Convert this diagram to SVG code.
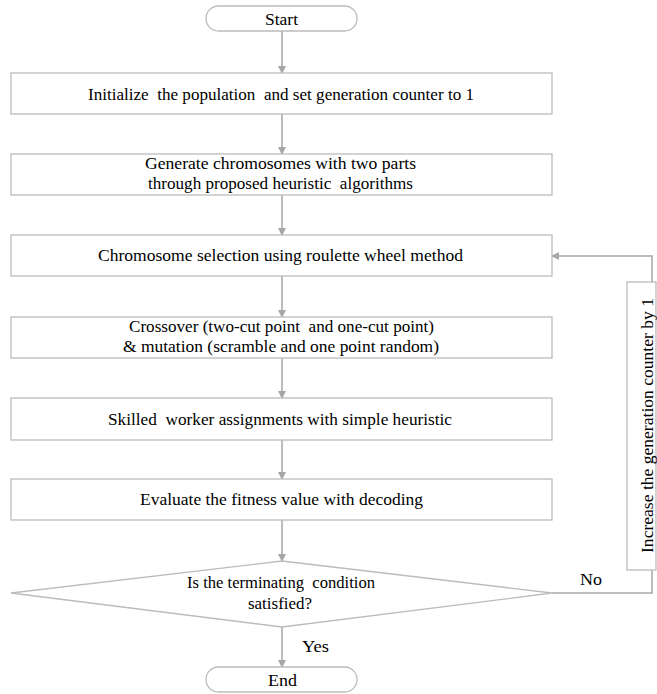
<svg xmlns="http://www.w3.org/2000/svg" width="657" height="694" viewBox="0 0 657 694">
<style>
.box{fill:#fff;stroke:#bcbcbc;stroke-width:1.3}
text{font-family:'Liberation Serif','Times New Roman',Times,'DejaVu Serif',serif;font-size:17px;fill:#000;text-anchor:middle;white-space:pre}
.c{fill:none;stroke:#a6a6a6;stroke-width:1.5}
</style>
<defs>
<marker id="ah" markerWidth="8" markerHeight="8" refX="7" refY="4" orient="auto" markerUnits="userSpaceOnUse">
<path d="M0,0 L8,4 L0,8 Z" fill="#a6a6a6"/>
</marker>
</defs>
<rect width="657" height="694" fill="#fff"/>
<g id="connectors">
<line class="c" x1="282" y1="31" x2="282" y2="73" marker-end="url(#ah)"/>
<line class="c" x1="282" y1="114" x2="282" y2="154" marker-end="url(#ah)"/>
<line class="c" x1="282" y1="195" x2="282" y2="235" marker-end="url(#ah)"/>
<line class="c" x1="282" y1="276" x2="282" y2="317" marker-end="url(#ah)"/>
<line class="c" x1="282" y1="358" x2="282" y2="398" marker-end="url(#ah)"/>
<line class="c" x1="282" y1="440" x2="282" y2="479" marker-end="url(#ah)"/>
<line class="c" x1="282" y1="520" x2="282" y2="561" marker-end="url(#ah)"/>
<line class="c" x1="282" y1="627" x2="282" y2="667" marker-end="url(#ah)"/>
<polyline class="c" points="552,593 652,593 652,256 552,256" marker-end="url(#ah)"/>
<text x="591" y="585" textLength="22" lengthAdjust="spacingAndGlyphs">No</text>
<text x="315.5" y="652" textLength="27" lengthAdjust="spacingAndGlyphs">Yes</text>
</g>
<g id="start">
<rect class="box" x="206" y="6" width="151" height="25" rx="12.5"/>
<text x="281.5" y="24.5" textLength="33" lengthAdjust="spacingAndGlyphs">Start</text>
</g>
<g id="init">
<rect class="box" x="11" y="73" width="541" height="41"/>
<text x="281" y="100" textLength="386" lengthAdjust="spacingAndGlyphs">Initialize  the population  and set generation counter to 1</text>
</g>
<g id="generate">
<rect class="box" x="11" y="154" width="541" height="41"/>
<text x="280.5" y="169" textLength="271" lengthAdjust="spacingAndGlyphs">Generate chromosomes with two parts</text>
<text x="280.5" y="189" textLength="265" lengthAdjust="spacingAndGlyphs">through proposed heuristic  algorithms</text>
</g>
<g id="selection">
<rect class="box" x="11" y="235" width="541" height="41"/>
<text x="280.5" y="261" textLength="365" lengthAdjust="spacingAndGlyphs">Chromosome selection using roulette wheel method</text>
</g>
<g id="crossover">
<rect class="box" x="11" y="317" width="541" height="41"/>
<text x="281.5" y="332" textLength="305" lengthAdjust="spacingAndGlyphs">Crossover (two-cut point  and one-cut point)</text>
<text x="281" y="352" textLength="316" lengthAdjust="spacingAndGlyphs">&amp; mutation (scramble and one point random)</text>
</g>
<g id="skilled">
<rect class="box" x="11" y="398" width="541" height="42"/>
<text x="280" y="425" textLength="344" lengthAdjust="spacingAndGlyphs">Skilled  worker assignments with simple heuristic</text>
</g>
<g id="evaluate">
<rect class="box" x="11" y="479" width="541" height="41"/>
<text x="281.5" y="505" textLength="283" lengthAdjust="spacingAndGlyphs">Evaluate the fitness value with decoding</text>
</g>
<g id="decision">
<polygon class="box" points="282,561 552,593 282,627 11,593"/>
<text x="281" y="588" textLength="188" lengthAdjust="spacingAndGlyphs">Is the terminating  condition</text>
<text x="280" y="609" textLength="64" lengthAdjust="spacingAndGlyphs">satisfied?</text>
</g>
<g id="increase">
<rect class="box" x="627" y="282" width="29" height="288"/>
<text transform="translate(653,425.5) rotate(-90)" textLength="255" lengthAdjust="spacingAndGlyphs">Increase the generation counter by 1</text>
</g>
<g id="end">
<rect class="box" x="206" y="667" width="151" height="25" rx="12.5"/>
<text x="282.5" y="685.5" textLength="29" lengthAdjust="spacingAndGlyphs">End</text>
</g>
</svg>
